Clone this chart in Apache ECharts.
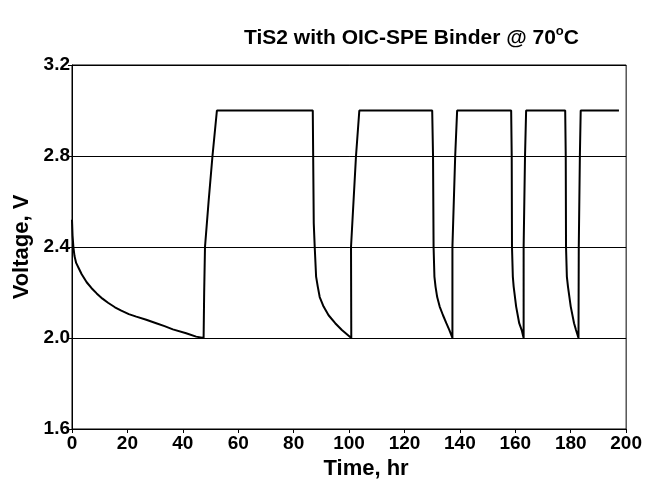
<!DOCTYPE html>
<html>
<head>
<meta charset="utf-8">
<title>TiS2 with OIC-SPE Binder</title>
<script src="https://cdn.jsdelivr.net/npm/echarts@6/dist/echarts.min.js"></script>
<style>
	html, body { margin: 0; padding: 0; background: #fff; }
	#chart { width: 645px; height: 487px; }
</style>
</head>
<body>
<div id="chart"></div>
<script>
	// time (hr) and cell voltage (V)
	var timeHr = [
		// 1st discharge
		0, 0.2, 0.5, 0.9, 1.5, 2.3, 3.5, 5.3, 7.0, 8.9, 11.0, 13.0, 15.5, 17.8, 20.5, 23.2, 26.8, 30.4, 33.4, 36.4, 41.2, 44.8, 47.5,
		// 1st charge
		47.7, 48.0, 49.3, 50.7, 52.3,
		// 2nd discharge
		86.9, 87.25, 87.6, 88.1, 88.7, 89.4, 90.8, 92.6, 95.0, 97.4, 100.8,
		100.7, 102.5, 103.7,
		// 3rd
		130.0, 130.3, 130.5, 130.8, 131.2, 131.8, 132.7, 133.9, 135.1, 136.2, 137.3,
		137.3, 138.3, 139.0,
		// 4th
		158.5, 158.7, 158.8, 159.1, 159.4, 160.3, 161.4, 162.3, 162.8, 163.0,
		163.0, 163.5, 163.9,
		// 5th
		178.0, 178.2, 178.3, 178.6, 179.0, 180.0, 181.2, 181.9, 182.8,
		182.9, 183.3, 183.6,
		197.4
	];
	var voltage = [
		2.52, 2.45, 2.40, 2.36, 2.33, 2.31, 2.28, 2.245, 2.22, 2.196, 2.173, 2.155, 2.135, 2.12, 2.105, 2.094, 2.08, 2.065, 2.052, 2.038, 2.021, 2.006, 2.00,
		2.20, 2.40, 2.60, 2.80, 3.00,
		3.00, 2.505, 2.40, 2.27, 2.226, 2.18, 2.138, 2.10, 2.065, 2.035, 2.00,
		2.40, 2.80, 3.00,
		3.00, 2.80, 2.40, 2.27, 2.226, 2.18, 2.138, 2.10, 2.065, 2.035, 2.00,
		2.40, 2.80, 3.00,
		3.00, 2.80, 2.40, 2.27, 2.226, 2.138, 2.065, 2.035, 2.01, 2.00,
		2.40, 2.80, 3.00,
		3.00, 2.80, 2.40, 2.27, 2.226, 2.138, 2.065, 2.035, 2.00,
		2.40, 2.80, 3.00,
		3.00
	];
	var xTicks = [0, 20, 40, 60, 80, 100, 120, 140, 160, 180, 200];
	var yTicks = [1.6, 2.0, 2.4, 2.8, 3.2];

	var points = [];
	for (var i = 0; i < timeHr.length; i++) {
		points.push([timeHr[i], voltage[i]]);
	}

	var font = 'Liberation Sans, Arial, sans-serif';
	var chart = echarts.init(document.getElementById('chart'), null, { renderer: 'canvas' });
	var option = {
		backgroundColor: '#fff',
		animation: false,
		title: {
			text: '{a|TiS2 with OIC-SPE Binder @ 70}{s|o}{a|C}',
			left: 239,
			top: 20,
			textStyle: {
				rich: {
					a: { fontFamily: font, fontWeight: 'bold', fontSize: 21, color: '#000', lineHeight: 26 },
					s: { fontFamily: font, fontWeight: 'bold', fontSize: 13, color: '#000', lineHeight: 13, verticalAlign: 'top' }
				}
			}
		},
		grid: {
			left: 72,
			right: 16,
			top: 65,
			bottom: 58,
			show: true,
			borderColor: '#000',
			borderWidth: 1
		},
		xAxis: {
			type: 'value',
			min: xTicks[0],
			max: xTicks[xTicks.length - 1],
			interval: 20,
			name: 'Time, hr',
			nameLocation: 'middle',
			nameGap: 26,
			nameTextStyle: { fontFamily: font, fontWeight: 'bold', fontSize: 22, color: '#000', padding: [0, 0, 0, 34] },
			axisLine: { lineStyle: { color: '#000', width: 1 } },
			axisTick: { show: true, inside: false, length: 4, lineStyle: { color: '#000' } },
			axisLabel: { fontFamily: font, fontWeight: 'bold', fontSize: 19, color: '#000', margin: 5 },
			splitLine: { show: false }
		},
		yAxis: {
			type: 'value',
			min: yTicks[0],
			max: yTicks[yTicks.length - 1],
			interval: 0.4,
			name: 'Voltage, V',
			nameLocation: 'middle',
			nameGap: 36,
			nameTextStyle: { fontFamily: font, fontWeight: 'bold', fontSize: 22, color: '#000' },
			axisLine: { lineStyle: { color: '#000', width: 1 } },
			axisTick: { show: true, inside: false, length: 4, lineStyle: { color: '#000' } },
			axisLabel: {
				fontFamily: font, fontWeight: 'bold', fontSize: 19, color: '#000', margin: 2,
				formatter: function (v) { return v.toFixed(1); }
			},
			splitLine: { show: true, lineStyle: { color: '#000', width: 1 } }
		},
		series: [
			{
				name: 'Voltage',
				type: 'line',
				data: points,
				showSymbol: false,
				symbol: 'none',
				smooth: false,
				lineStyle: { color: '#000', width: 2 }
			}
		]
	};
	chart.setOption(option);
</script>
</body>
</html>
